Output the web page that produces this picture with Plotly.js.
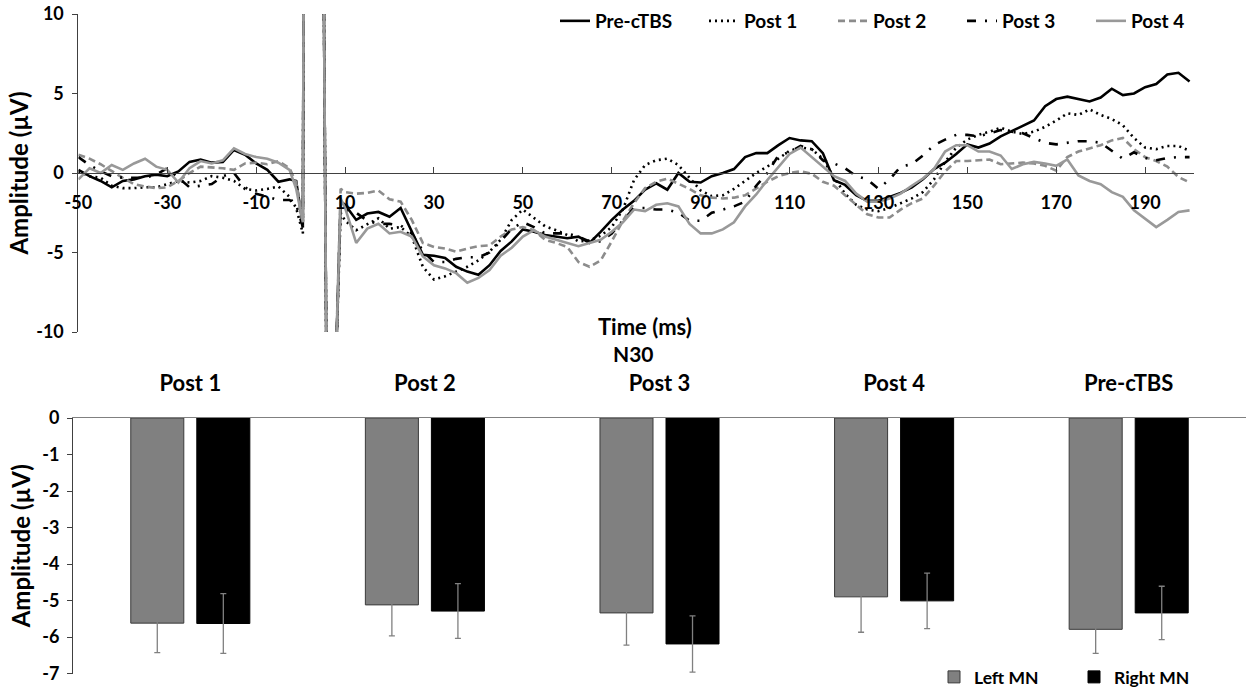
<!DOCTYPE html>
<html>
<head>
<meta charset="utf-8">
<script src="https://cdn.plot.ly/plotly-3.0.1.min.js"></script>
<style>html,body{margin:0;padding:0;background:#fff;overflow:hidden;}#chart{width:1246px;height:691px;}</style>
</head>
<body>
<div id="chart"></div>
<script>
// ---------- Top panel: ERP waveforms (time in ms, amplitude in µV) ----------
const timeMs = [-50,-47.5,-45,-42.5,-40,-37.5,-35,-32.5,-30,-27.5,-25,-22.5,-20,-17.5,-15,-12.5,-10,-7.5,-5,-2.5,
  -1,0.5,1,4.5,6.5,7.5,9,
  10,12.5,15,17.5,20,22.5,25,27.5,30,32.5,35,37.5,40,42.5,45,47.5,50,52.5,55,57.5,60,62.5,65,67.5,70,72.5,75,77.5,80,82.5,85,87.5,90,92.5,95,97.5,100,102.5,105,107.5,110,112.5,115,117.5,120,122.5,125,127.5,130,132.5,135,137.5,140,142.5,145,147.5,150,152.5,155,157.5,160,162.5,165,167.5,170,172.5,175,177.5,180,182.5,185,187.5,190,192.5,195,197.5,200];

const preCTBS = [0.2,-0.2,-0.5,-0.9,-0.5,-0.4,-0.2,-0.1,-0.2,0.1,0.7,0.85,0.65,0.7,1.45,1.15,0.6,0.2,-0.55,-0.4,
  -0.5,-3.3,40,40,-40,-16,-1.8,
  -2.0,-2.95,-2.55,-2.45,-2.75,-2.2,-3.7,-5.15,-5.2,-5.35,-5.9,-6.2,-6.4,-5.8,-4.9,-4.3,-3.55,-3.7,-3.9,-4.0,-4.1,-4.0,-4.4,-3.7,-2.95,-2.3,-1.75,-1.05,-0.65,-1.05,0.0,-0.55,-0.6,-0.2,0.0,0.25,1.0,1.25,1.25,1.75,2.2,2.05,2.0,1.25,-0.45,-0.75,-1.4,-1.75,-1.75,-1.5,-1.25,-0.9,-0.4,0.25,0.65,1.2,1.8,1.6,1.85,2.3,2.65,2.95,3.3,4.2,4.65,4.8,4.65,4.5,4.75,5.3,4.9,5.0,5.4,5.6,6.2,6.3,5.75];

const post1 = [0.1,-0.2,-0.3,-0.8,-0.95,-0.95,-0.9,-0.9,-0.7,-0.5,-0.6,-0.5,-0.2,-0.3,-0.5,-1.0,-1.1,-1.0,-0.85,-1.5,
  -2.2,-3.8,40,40,-40,-16,-2.5,
  -3.0,-3.6,-3.2,-2.85,-3.5,-3.4,-4.0,-5.9,-6.7,-6.5,-6.2,-5.9,-5.5,-4.95,-4.2,-2.95,-2.3,-2.8,-3.35,-3.6,-3.9,-4.3,-4.25,-3.95,-3.4,-2.3,-0.45,0.5,0.8,0.9,0.5,-0.3,-1.1,-1.45,-1.4,-1.0,-0.5,0.0,0.4,0.9,1.4,1.6,1.5,0.9,-0.3,-1.3,-2.0,-2.3,-2.4,-2.2,-1.9,-1.6,-1.2,-0.4,0.7,1.6,2.1,2.4,2.6,2.85,2.6,2.45,2.6,2.9,3.3,3.75,3.65,4.0,3.65,3.4,3.0,2.2,1.6,1.5,1.7,1.7,1.4];

const post2 = [1.15,0.9,0.55,0.1,-0.3,-0.7,-0.85,-0.95,-0.9,-0.5,0.0,0.4,0.35,0.3,0.2,0.6,0.65,0.55,0.75,0.3,
  -0.6,-3.0,40,40,-40,-16,-1.0,
  -1.2,-1.3,-1.25,-1.1,-1.65,-1.8,-2.95,-4.4,-4.65,-4.75,-4.95,-4.75,-4.6,-4.55,-4.0,-3.55,-3.4,-3.6,-4.2,-4.4,-4.65,-5.6,-5.9,-5.5,-4.3,-3.0,-1.9,-0.95,-0.55,-0.35,-0.65,-1.0,-1.4,-1.55,-1.6,-1.55,-1.4,-0.95,-0.55,-0.2,0.0,0.1,-0.05,-0.55,-0.8,-1.4,-2.0,-2.6,-2.8,-2.8,-2.3,-1.9,-1.6,-0.8,0.1,0.75,0.75,0.8,0.85,0.55,0.6,0.65,0.6,0.45,0.15,1.0,1.35,1.55,1.75,2.05,2.2,1.5,1.0,0.75,0.4,-0.25,-0.6];

const post3 = [1.0,0.5,0.1,-0.2,-0.3,-0.3,-0.3,-0.1,0.3,-0.3,-0.9,-0.8,-0.7,-0.2,0.0,-0.9,-1.3,-1.5,-1.7,-1.7,
  -2.0,-3.4,40,40,-40,-16,-2.0,
  -2.3,-2.5,-3.0,-3.2,-3.2,-3.3,-3.8,-4.9,-5.6,-5.6,-5.4,-5.3,-5.3,-5.0,-4.3,-3.5,-3.1,-3.4,-3.8,-3.8,-3.8,-4.0,-4.3,-4.3,-3.8,-3.0,-2.2,-2.2,-2.3,-2.3,-2.5,-3.0,-3.0,-2.5,-2.3,-2.1,-1.8,-0.8,0.0,1.1,1.3,1.7,1.5,0.8,0.6,0.3,-0.2,-0.4,-1.0,-0.4,0.4,0.55,1.1,1.75,2.1,2.4,2.4,2.3,2.5,2.7,2.6,2.5,2.2,1.9,1.8,1.9,2.0,2.0,1.9,1.4,0.9,1.3,0.95,0.8,0.95,1.0,1.0];

const post4 = [-0.4,0.3,0.0,0.5,0.2,0.6,0.9,0.4,0.2,-0.6,0.3,0.75,0.6,0.8,1.55,1.2,1.0,0.9,0.65,0.2,
  -1.0,-3.1,40,40,-40,-16,-1.6,
  -2.2,-4.4,-3.5,-3.2,-3.8,-3.7,-4.0,-5.25,-5.8,-6.0,-6.3,-6.9,-6.6,-6.1,-5.2,-4.7,-4.0,-3.6,-4.0,-4.2,-4.4,-4.6,-4.4,-4.2,-3.7,-3.1,-2.3,-2.4,-2.0,-1.9,-2.1,-3.2,-3.8,-3.8,-3.55,-3.1,-2.1,-1.35,-0.45,0.4,1.2,1.6,1.0,0.45,-0.2,-0.5,-1.3,-1.8,-1.8,-1.6,-1.3,-0.8,-0.35,0.25,1.35,1.75,1.75,1.35,1.35,1.1,0.25,0.55,0.7,0.6,0.45,0.85,-0.15,-0.5,-0.7,-1.2,-1.5,-2.35,-2.85,-3.4,-2.95,-2.45,-2.35];

const waveNames = ['Pre-cTBS','Post 1','Post 2','Post 3','Post 4'];
const timeTickVals = [-50,-30,-10,10,30,50,70,90,110,130,150,170,190];
const timeTickText = ['-50','-30','-10','10','30','50','70','90','110','130','150','170','190'];
const ampTickVals = [-10,-5,0,5,10];
const ampTickText = ['-10','-5','0','5','10'];

// ---------- Bottom panel: N30 amplitude ----------
const sessions = ['Post 1','Post 2','Post 3','Post 4','Pre-cTBS'];
const leftMN = [-5.62,-5.12,-5.34,-4.9,-5.79];
const leftMNErr = [0.81,0.85,0.88,0.97,0.66];
const rightMN = [-5.63,-5.29,-6.19,-5.01,-5.34];
const rightMNErr = [0.82,0.75,0.77,0.76,0.73];
const barTickVals = [0,-1,-2,-3,-4,-5,-6,-7];
const barTickText = ['0','-1','-2','-3','-4','-5','-6','-7'];

const FONT = 'Lato, "Liberation Sans", sans-serif';
const W = 1246, H = 691;
const px = v => v / W, py = v => (H - v) / H;

const waveSeries = [preCTBS, post1, post2, post3, post4];
const waveStyles = [
  {color:'#000000', width:2.6, dash:'solid'},
  {color:'#000000', width:2.6, dash:'2px,4px'},
  {color:'#8c8c8c', width:2.6, dash:'7px,4px'},
  {color:'#000000', width:2.6, dash:'9px,9px,2px,9px'},
  {color:'#999999', width:2.6, dash:'solid'}
];
const waveLegendWidths = [104, 84, 84, 84, null];

const traces = waveSeries.map((ys, i) => {
  const t = {
    type:'scatter', mode:'lines', x: timeMs, y: ys, name: waveNames[i],
    xaxis:'x', yaxis:'y', line: waveStyles[i], legend:'legend'
  };
  if (waveLegendWidths[i]) t.legendwidth = waveLegendWidths[i];
  return t;
});

traces.push({
  type:'bar', name:'Left MN', x: sessions, y: leftMN, xaxis:'x2', yaxis:'y2', legend:'legend2', legendwidth: 95,
  marker:{color:'#808080', line:{color:'#3a3a3a', width:1}},
  error_y:{type:'data', array: leftMNErr, visible:true, color:'#808080', thickness:1.3, width:3}
});
traces.push({
  type:'bar', name:'Right MN', x: sessions, y: rightMN, xaxis:'x2', yaxis:'y2', legend:'legend2',
  marker:{color:'#000000', line:{color:'#000000', width:1}},
  error_y:{type:'data', array: rightMNErr, visible:true, color:'#808080', thickness:1.3, width:3}
});

const boldFont = (size) => ({family: FONT, size: size, color:'#000', weight: 700});

const layout = {
  width: W, height: H,
  margin:{l:0, r:0, t:0, b:0, autoexpand:false},
  paper_bgcolor:'#fff', plot_bgcolor:'rgba(0,0,0,0)',
  showlegend:true,
  barmode:'group', bargap:0.437, bargroupgap:0.197,
  xaxis:{
    domain:[px(78.4), px(1194)], range:[-50, 201], anchor:'free', position: py(173),
    tickvals: timeTickVals, ticktext: timeTickText,
    ticks:'inside', ticklen:6, tickcolor:'#404040', tickwidth:1,
    showline:true, linecolor:'#404040', linewidth:1,
    showgrid:false, zeroline:false, automargin:false,
    tickfont: boldFont(18), ticklabelstandoff: 13
  },
  yaxis:{
    domain:[py(332), py(14)], range:[-10, 10], anchor:'x',
    tickvals: ampTickVals, ticktext: ampTickText,
    ticks:'outside', ticklen:5, tickcolor:'#404040',
    showline:true, linecolor:'#404040', linewidth:1,
    showgrid:false, zeroline:false, automargin:false,
    tickfont: boldFont(18), ticklabelstandoff: 5,
    title:{text:'Amplitude (µV)', font: boldFont(24), standoff: 0}
  },
  xaxis2:{
    domain:[px(73), 1], anchor:'y2', side:'top', type:'category',
    ticks:'', showline:true, linecolor:'#808080', linewidth:1.5,
    showgrid:false, zeroline:false, automargin:false,
    tickfont: boldFont(22), ticklabelstandoff: 17
  },
  yaxis2:{
    domain:[py(673.5), py(418)], range:[-7, 0], anchor:'x2',
    tickvals: barTickVals, ticktext: barTickText,
    ticks:'outside', ticklen:5, tickcolor:'#404040',
    showline:true, linecolor:'#404040', linewidth:1,
    showgrid:false, zeroline:false, automargin:false,
    tickfont: boldFont(18), ticklabelstandoff: 4,
    title:{text:'Amplitude (µV)', font: boldFont(24), standoff: 4}
  },
  legend:{
    orientation:'h', x: px(1190), xanchor:'right', y: py(2), yanchor:'top',
    font: boldFont(19), bgcolor:'rgba(0,0,0,0)', itemwidth:30, tracegroupgap:0
  },
  legend2:{
    orientation:'h', x: px(1195), xanchor:'right', y: py(695), yanchor:'bottom',
    font: boldFont(17.5), bgcolor:'rgba(0,0,0,0)', itemwidth:30
  },
  annotations:[
    {text:'Time (ms)', xref:'paper', yref:'paper', x: px(645), y: py(327), xanchor:'center', yanchor:'middle', showarrow:false, font: boldFont(22)},
    {text:'N30', xref:'paper', yref:'paper', x: px(633), y: py(354), xanchor:'center', yanchor:'middle', showarrow:false, font: boldFont(21)}
  ]
};

Plotly.newPlot('chart', traces, layout, {staticPlot:true, displayModeBar:false});
</script>
</body>
</html>
